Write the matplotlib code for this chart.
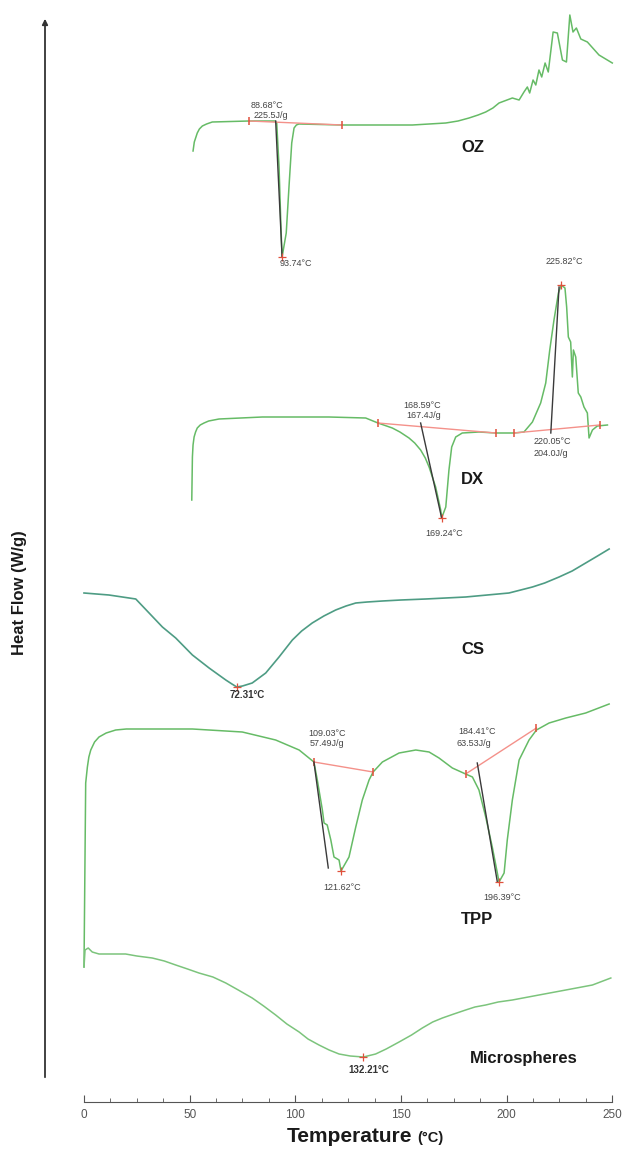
import matplotlib.pyplot as plt
from matplotlib.ticker import MultipleLocator

plt.rcParams['font.family'] = ['Liberation Sans', 'DejaVu Sans']

# DSC traces: temperature (°C) and stacked heat flow (arbitrary units, endo down)
oz_t = [51.6, 52.2, 53.6, 54.6, 56.0, 58.0, 60.7, 78.1, 90.4, 91.2, 92.3, 93.2, 93.74, 95.7,
        97.0, 98.3, 99.4, 100.5, 101.7, 122.2, 155.4, 171.2, 177.0, 182.2, 186.5, 190.1,
        193.5, 196.4, 202.7, 205.9, 208.2, 209.8, 210.9, 212.5, 213.8, 215.3, 216.6, 218.2,
        219.7, 222.0, 224.0, 226.4, 228.3, 229.9, 231.4, 233.0, 235.1, 238.2, 243.7, 250.0]
oz_hf = [951, 960, 969, 973, 976, 978, 980, 981, 981, 979, 935, 875, 845, 869,
         915, 959, 974, 977, 978, 977, 977, 979, 981, 984, 987, 990,
         994, 999, 1004, 1002, 1010, 1015, 1009, 1022, 1017, 1032, 1025, 1039,
         1030, 1070, 1069, 1042, 1040, 1087, 1070, 1074, 1063, 1060, 1047, 1039]

dx_t = [51.0, 51.3, 51.6, 52.1, 52.8, 53.6, 55.0, 56.8, 59.0, 63.9, 84.4, 115.9, 133.3,
        139.1, 145.9, 149.5, 153.8, 156.5, 159.3, 161.5, 163.3, 166.4, 168.8, 169.24, 171.2,
        172.7, 174.0, 175.9, 179.0, 186.9, 194.8, 203.5, 208.2, 212.2, 216.1, 218.5, 220.4,
        222.4, 224.5, 225.82, 227.6, 228.4, 229.2, 230.3, 231.1, 231.6, 232.7, 233.9, 235.1,
        236.6, 238.2, 239.0, 240.6, 242.9, 247.7]
dx_hf = [602, 645, 657, 665, 670, 674, 677, 679, 681, 683, 685, 685, 684,
         679, 674, 670, 664, 659, 652, 644, 635, 615, 592, 584, 595,
         632, 655, 665, 669, 670, 669, 669, 670, 680, 699, 719, 752,
         782, 809, 817, 814, 795, 765, 760, 725, 752, 745, 709, 705,
         695, 689, 664, 672, 676, 677]

cs_t = [0.0, 11.8, 24.5, 30.8, 37.1, 43.4, 51.3, 59.2, 67.1, 70.0, 72.31, 75.0, 79.6, 86.0,
        92.3, 98.6, 103.0, 108.0, 113.5, 119.1, 124.0, 128.6, 134.0, 141.2, 150.0, 161.7,
        180.6, 201.1, 212.2, 218.0, 224.8, 231.0, 237.4, 243.0, 248.5]
cs_hf = [509, 507, 503, 489, 475, 464, 447, 434, 422, 418, 415, 416, 419, 429,
         445, 462, 471, 479, 486, 492, 496, 499, 500, 501, 502, 503,
         505, 509, 515, 519, 525, 531, 539, 546, 553]

tpp_t = [0.0, 0.8, 1.6, 2.3, 3.2, 5.0, 7.1, 10.5, 15.0, 20.0, 27.6, 51.3, 74.9, 90.7, 101.8,
         108.8, 110.4, 112.8, 113.6, 115.1, 116.8, 118.3, 120.7, 121.62, 125.4, 128.6, 131.7,
         134.9, 136.8, 141.2, 149.1, 157.0, 163.3, 168.0, 174.3, 180.6, 183.8, 186.9, 190.1,
         193.2, 195.6, 196.39, 198.8, 200.3, 202.7, 205.9, 210.6, 214.1, 220.1, 228.0, 237.4,
         248.5]
tpp_hf = [135, 319, 335, 345, 352, 360, 365, 369, 372, 373, 373, 373, 370, 362, 352,
          340, 322, 292, 279, 277, 262, 245, 242, 231, 245, 275, 302,
          322, 330, 340, 349, 352, 350, 344, 334, 328, 325, 312, 285,
          255, 229, 220, 229, 262, 302, 342, 362, 372, 379, 384, 389,
          398]

ms_t = [0.0, 0.5, 2.0, 3.9, 7.1, 19.7, 25.0, 32.3, 38.0, 43.4, 49.0, 54.4, 61.0, 67.1, 73.0,
        79.6, 85.0, 90.7, 96.0, 101.8, 106.0, 111.2, 116.0, 120.7, 126.0, 132.21, 138.0,
        143.0, 149.1, 155.0, 160.1, 165.0, 169.6, 175.0, 180.6, 185.0, 190.1, 196.0, 202.7,
        215.3, 228.0, 240.6, 249.3]
ms_hf = [135, 152, 154, 150, 148, 148, 146, 144, 141, 137, 133, 129, 125, 119, 112,
         104, 96, 87, 78, 70, 63, 57, 52, 48, 46, 45, 48,
         53, 60, 67, 74, 80, 84, 88, 92, 95, 97, 100, 102,
         107, 112, 117, 124]

# integration baselines (red) and onset tangents (dark)
baselines = [((78.1, 981), (122.2, 977)),
             ((139.1, 679), (194.8, 669)),
             ((203.5, 669), (244.0, 677)),
             ((108.8, 340), (136.8, 330)),
             ((180.6, 328), (214.1, 374))]
tangents = [((90.7, 981), (93.74, 845)),
            ((159.3, 679), (169.24, 584)),
            ((220.9, 669), (224.8, 815)),
            ((108.8, 340), (115.6, 234)),
            ((186.1, 339), (195.6, 220))]
peaks = [(93.74, 845), (169.24, 584), (225.82, 817), (72.31, 415),
         (121.62, 231), (196.39, 220), (132.21, 45)]

# annotation text: (T, hf, text)
notes = [(86.7, 996, '88.68°C'), (88.4, 987, '225.5J/g'), (100.2, 838, '93.74°C'),
         (160.1, 697, '168.59°C'), (160.9, 686, '167.4J/g'), (170.4, 569, '169.24°C'),
         (221.6, 660, '220.05°C'), (220.9, 649, '204.0J/g'), (227.2, 841, '225.82°C'),
         (115.1, 369, '109.03°C'), (115.1, 359, '57.49J/g'), (122.2, 215, '121.62°C'),
         (186.1, 370, '184.41°C'), (184.6, 359, '63.53J/g'), (198.0, 205, '196.39°C')]
bold_notes = [(77.1, 407, '72.31°C'), (134.9, 32, '132.21°C')]
names = [(183.8, 954, 'OZ'), (183.8, 622, 'DX'), (183.8, 452, 'CS'),
         (186.1, 182, 'TPP'), (208.2, 43, 'Microspheres')]

fig = plt.figure(figsize=(6.23, 11.5), dpi=100)
ax = fig.add_axes([84 / 623, 48 / 1150, 528.3 / 623, 1092 / 1150])
ax.set_xlim(0, 250)
ax.set_ylim(0, 1092)

green = '#66bb66'
ax.plot(oz_t, oz_hf, color=green, lw=1.1, clip_on=False)
ax.plot(dx_t, dx_hf, color=green, lw=1.1, clip_on=False)
ax.plot(cs_t, cs_hf, color='#4e9c84', lw=1.2, clip_on=False)
ax.plot(tpp_t, tpp_hf, color=green, lw=1.1, clip_on=False)
ax.plot(ms_t, ms_hf, color='#7cc47c', lw=1.1, clip_on=False)

for (t0, h0), (t1, h1) in baselines:
    ax.plot([t0, t1], [h0, h1], color='#f4918a', lw=1.0)
    ax.plot([t0, t1], [h0, h1], ls='none', marker='|', ms=6, mew=1.1, color='#e0503c')
for (t0, h0), (t1, h1) in tangents:
    ax.plot([t0, t1], [h0, h1], color='#3a3a3a', lw=1.0)
for t, h in peaks:
    ax.plot(t, h, marker='+', ms=6, mew=0.9, color='#e0503c')

for t, h, s in notes:
    ax.text(t, h, s, fontsize=6.5, color='#444444', ha='center', va='center')
for t, h, s in bold_notes:
    ax.text(t, h, s, fontsize=7, color='#333333', ha='center', va='center', fontweight='bold')
for t, h, s in names:
    ax.text(t, h, s, fontsize=12, color='#1a1a1a', ha='center', va='center', fontweight='bold')

for side in ['left', 'top', 'right']:
    ax.spines[side].set_visible(False)
ax.spines['bottom'].set_color('#555555')
ax.set_yticks([])
ax.xaxis.set_major_locator(MultipleLocator(50))
ax.xaxis.set_minor_locator(MultipleLocator(12.5))
ax.tick_params(axis='x', which='major', direction='in', length=5, color='#555555',
               labelcolor='#555555', labelsize=8.5, pad=5)
ax.tick_params(axis='x', which='minor', direction='in', length=3, color='#555555')

# heat flow arrow on the left
ax.annotate('', xy=(45 / 623, 1 - 16 / 1150), xytext=(45 / 623, 1 - 1080 / 1150),
            xycoords='figure fraction', textcoords='figure fraction',
            arrowprops=dict(arrowstyle='-|>', color='#333333', lw=1.3, mutation_scale=8))
fig.text(20 / 623, 1 - 593 / 1150, 'Heat Flow (W/g)', rotation=90, ha='center',
         va='center', fontsize=12, fontweight='bold', color='#1a1a1a')
fig.text(287 / 623, 1 - 1136 / 1150, 'Temperature', ha='left', va='center',
         fontsize=15, fontweight='bold', color='#1a1a1a')
fig.text(417 / 623, 1 - 1138 / 1150, '(°C)', ha='left', va='center',
         fontsize=10.5, fontweight='bold', color='#1a1a1a')

fig.savefig('out.png', dpi=100)
